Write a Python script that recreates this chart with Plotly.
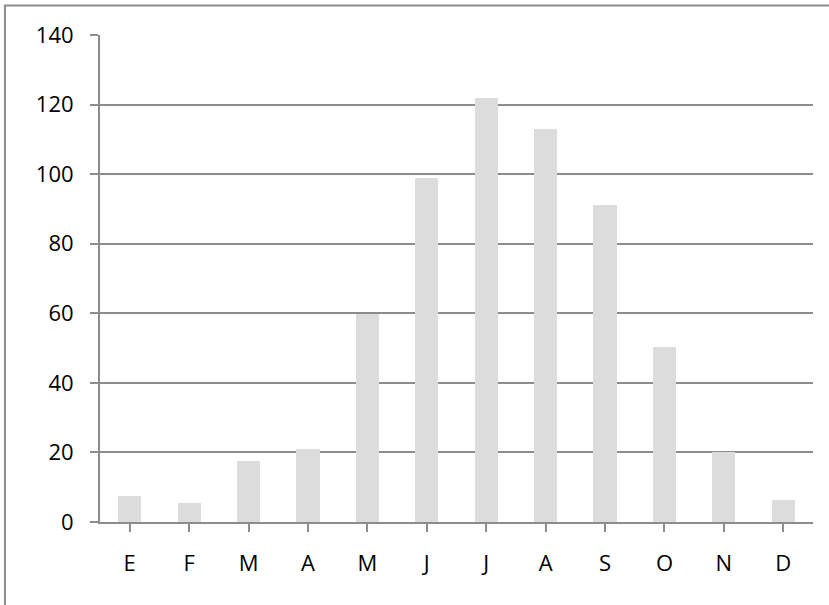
import plotly.graph_objects as go

# Monthly values (Spanish month initials)
months = ["E", "F", "M", "A", "M", "J", "J", "A", "S", "O", "N", "D"]
values = [7.6, 5.4, 17.6, 21.1, 59.7, 98.9, 122, 113, 91, 50.2, 20, 6.4]
y_ticks = [0, 20, 40, 60, 80, 100, 120, 140]

# Use positional x so repeated initials stay separate categories
positions = list(range(len(months)))

fig = go.Figure(
    go.Bar(
        x=positions,
        y=values,
        marker=dict(color="#dcdcdc", line=dict(width=0)),
        width=0.39,
    )
)

axis_grey = "#8c8c8c"
font_family = "Open Sans, Liberation Sans, sans-serif"
label_font = dict(family=font_family, size=22, color="#000000")

fig.update_layout(
    width=829,
    height=605,
    margin=dict(l=100, r=16, t=35, b=83),
    paper_bgcolor="white",
    plot_bgcolor="white",
    showlegend=False,
    bargap=0,
    font=label_font,
    xaxis=dict(
        tickmode="array",
        tickvals=positions,
        ticktext=months,
        range=[-0.5, len(months) - 0.5],
        tickfont=label_font,
        showgrid=False,
        showline=True,
        linecolor=axis_grey,
        linewidth=2,
        ticks="outside",
        tickson="boundaries",
        ticklen=8,
        tickwidth=2,
        tickcolor=axis_grey,
        ticklabelstandoff=13,
        zeroline=False,
    ),
    yaxis=dict(
        tickmode="array",
        tickvals=y_ticks,
        range=[0, 140],
        tickfont=label_font,
        showgrid=True,
        gridcolor=axis_grey,
        gridwidth=2,
        showline=True,
        linecolor=axis_grey,
        linewidth=2,
        ticks="outside",
        ticklen=8,
        tickwidth=2,
        tickcolor=axis_grey,
        ticklabelstandoff=12,
        zeroline=False,
    ),
)

# Outer chart frame
fig.add_shape(
    type="rect",
    xref="paper",
    yref="paper",
    x0=-0.1333,
    x1=1.2,
    y0=-0.3,
    y1=1.0607,
    line=dict(color="#8c8c8c", width=2),
    fillcolor="rgba(0,0,0,0)",
    layer="below",
)

fig.write_html("out.html")
